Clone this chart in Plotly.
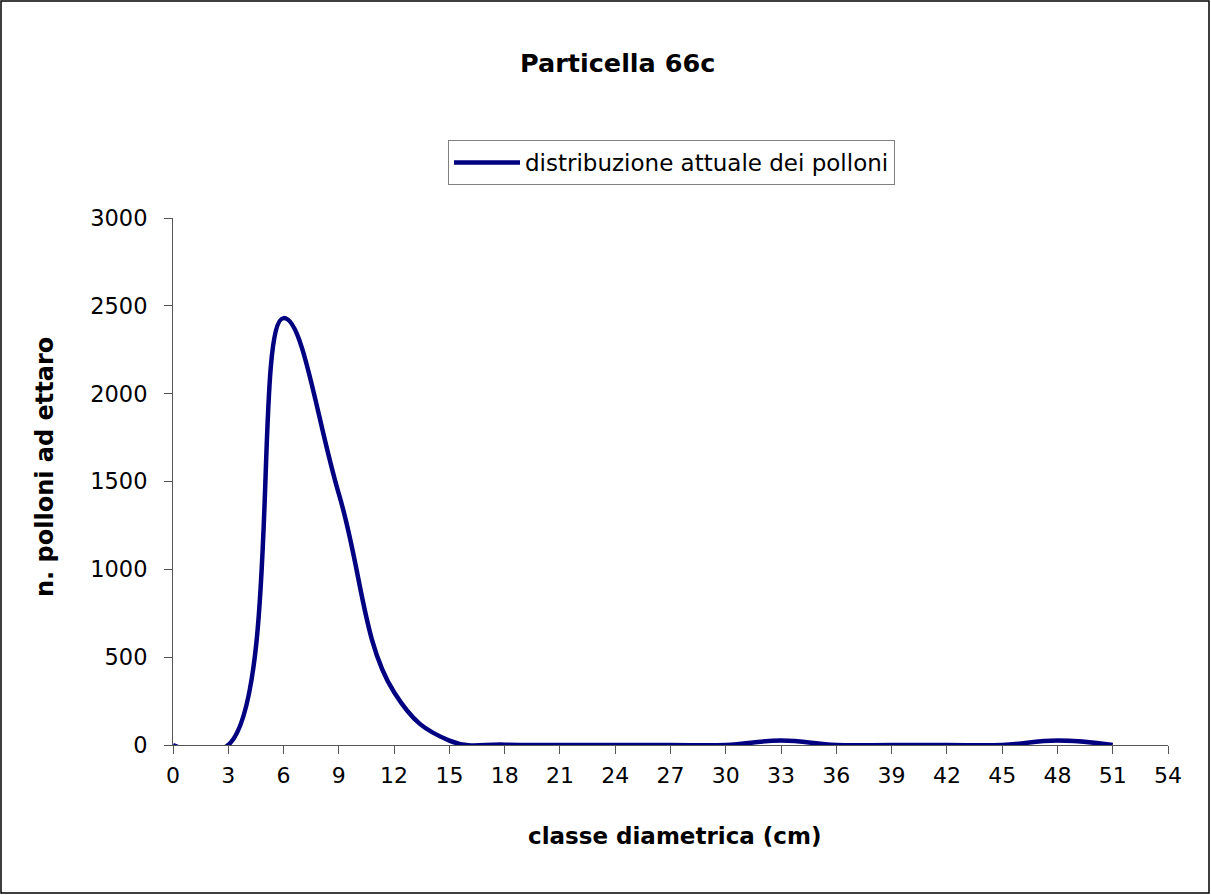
import plotly.graph_objects as go

classi = [0, 3, 6, 9, 12, 15, 18, 21, 24, 27, 30, 33, 36, 39, 42, 45, 48, 51]
polloni = [0, 0, 2430, 1430, 300, 25, 2, 0, 0, 0, 0, 25, 0, 0, 0, 0, 25, 0]
x_ticks = list(range(0, 55, 3))

W, H = 1211, 895
L, R, T, B = 173, 43, 218, 150
pw, ph = W - L - R, H - T - B

def px(x):
    return (x - L) / pw

def py(y):
    return (H - B - y) / ph

FONT = "DejaVu Sans, Arial, sans-serif"
AX = "#555555"

fig = go.Figure()
fig.add_trace(go.Scatter(
    x=classi, y=polloni, mode="lines",
    line=dict(color="#000080", width=4.5, shape="spline", smoothing=1.2),
    name="distribuzione attuale dei polloni",
))

fig.update_layout(
    width=W, height=H,
    margin=dict(l=L, r=R, t=T, b=B),
    paper_bgcolor="white", plot_bgcolor="white",
    font=dict(family=FONT, color="black", size=22),
    showlegend=True,
    legend=dict(
        x=px(448), y=py(140), xanchor="left", yanchor="top",
        bordercolor="#808080", borderwidth=1, bgcolor="white",
        font=dict(size=23, family=FONT), itemwidth=66,
        tracegroupgap=0,
    ),
    xaxis=dict(
        range=[0, 54], tickvals=x_ticks, ticktext=[str(v) for v in x_ticks],
        showgrid=False, zeroline=False, showline=True, linecolor=AX,
        linewidth=1, ticks="outside", ticklen=8, tickcolor=AX,
        tickfont=dict(size=22), fixedrange=True, ticklabelstandoff=3,
    ),
    yaxis=dict(
        range=[0, 3000], dtick=500, showgrid=False, zeroline=False,
        showline=True, linecolor=AX, linewidth=1, ticks="outside",
        ticklen=8, tickcolor=AX, tickfont=dict(size=22.5), fixedrange=True,
        ticklabelstandoff=12,
    ),
    shapes=[dict(
        type="rect", xref="paper", yref="paper",
        x0=px(1), x1=px(1209), y0=py(893), y1=py(1),
        line=dict(color="black", width=1.5), fillcolor="rgba(0,0,0,0)",
        layer="below",
    )],
    annotations=[
        dict(text="<b>Particella 66c</b>", xref="paper", yref="paper",
             x=px(617), y=py(63), xanchor="center", yanchor="middle",
             showarrow=False, font=dict(size=25.5, family=FONT)),
        dict(text="<b>classe diametrica (cm)</b>", xref="paper", yref="paper",
             x=px(674), y=py(836), xanchor="center", yanchor="middle",
             showarrow=False, font=dict(size=23, family=FONT)),
        dict(text="<b>n. polloni ad ettaro</b>", xref="paper", yref="paper",
             x=px(45), y=py(467), xanchor="center", yanchor="middle",
             textangle=-90, showarrow=False, font=dict(size=24, family=FONT)),
    ],
)

fig.write_html("out.html", config={"displayModeBar": False},
               post_script="document.body.style.margin='0';")
